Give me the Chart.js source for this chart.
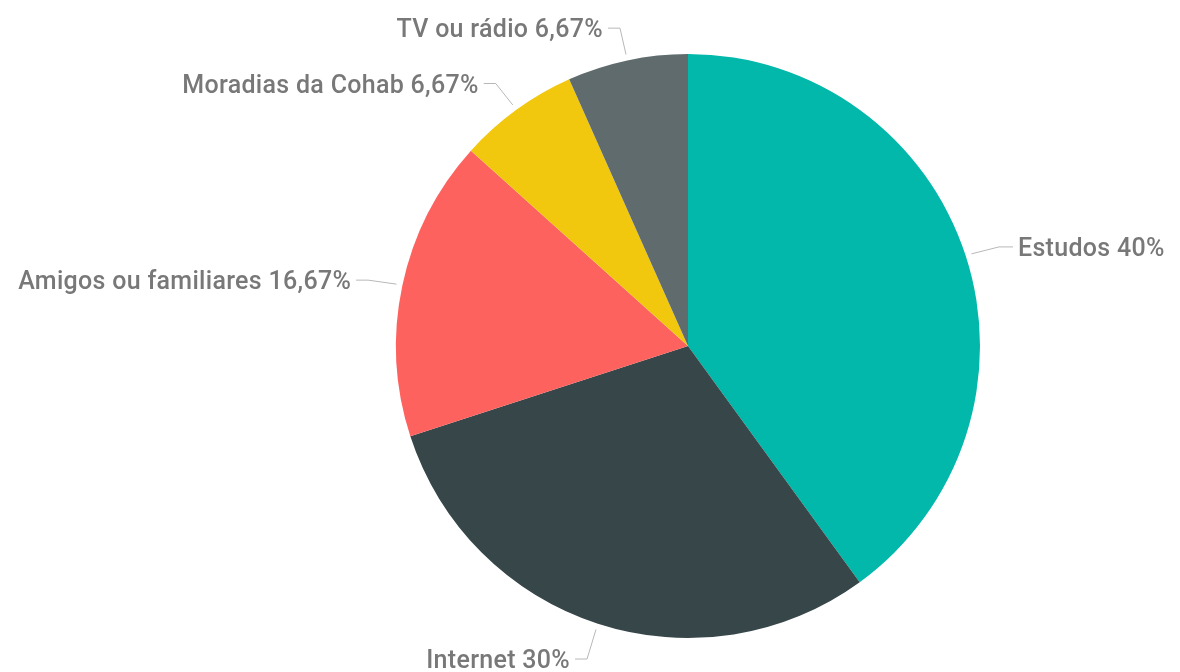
<!DOCTYPE html>
<html>
<head>
<meta charset="utf-8">
<script src="https://cdn.jsdelivr.net/npm/chart.js@4/dist/chart.umd.min.js"></script>
<style>
html,body{margin:0;padding:0;background:#fff;}
#wrap{width:1180px;height:672px;position:relative;}
</style>
</head>
<body>
<div id="wrap"><canvas id="c" width="1180" height="672"></canvas></div>
<script>
const categories = ["Estudos", "Internet", "Amigos ou familiares", "Moradias da Cohab", "TV ou rádio"];
const values = [40, 30, 16.67, 6.67, 6.67];
const colors = ["#01B8AA", "#374649", "#FD625E", "#F2C80F", "#5F6B6D"];

function fmt(v){ return String(v).replace('.', ',') + '%'; }

const leaderPlugin = {
  id: 'leaders',
  afterDatasetsDraw(chart){
    const ctx = chart.ctx;
    const meta = chart.getDatasetMeta(0);
    ctx.save();
    ctx.font = '500 25px Roboto';
    if ('letterSpacing' in ctx) ctx.letterSpacing = '0.3px';
    ctx.textBaseline = 'middle';
    meta.data.forEach((arc, i) => {
      const p = arc.getProps(['x','y','startAngle','endAngle','outerRadius'], true);
      const mid = (p.startAngle + p.endAngle) / 2;
      const dx = Math.cos(mid), dy = Math.sin(mid);
      const r = p.outerRadius;
      const sx = p.x + dx * (r + 6), sy = p.y + dy * (r + 6);
      const ex = p.x + dx * (r + 35), ey = p.y + dy * (r + 35) + 2;
      const right = dx >= 0;
      const hx = ex + (right ? 14 : -12);
      ctx.strokeStyle = '#b8b8b8';
      ctx.lineWidth = 1;
      ctx.beginPath();
      ctx.moveTo(sx, sy);
      ctx.lineTo(ex, ey);
      ctx.lineTo(hx, ey);
      ctx.stroke();
      ctx.fillStyle = '#787878';
      ctx.textAlign = right ? 'left' : 'right';
      ctx.fillText(categories[i] + ' ' + fmt(values[i]), hx + (right ? 5 : -5), ey + 3);
    });
    ctx.restore();
  }
};

new Chart(document.getElementById('c'), {
  type: 'pie',
  data: {
    labels: categories,
    datasets: [{
      data: values,
      backgroundColor: colors,
      borderWidth: 0,
      radius: 292
    }]
  },
  options: {
    responsive: false,
    animation: false,
    layout: { padding: { left: 196, top: 20, right: 0, bottom: 0 } },
    plugins: { legend: { display: false }, tooltip: { enabled: false } }
  },
  plugins: [leaderPlugin]
});
</script>
</body>
</html>
